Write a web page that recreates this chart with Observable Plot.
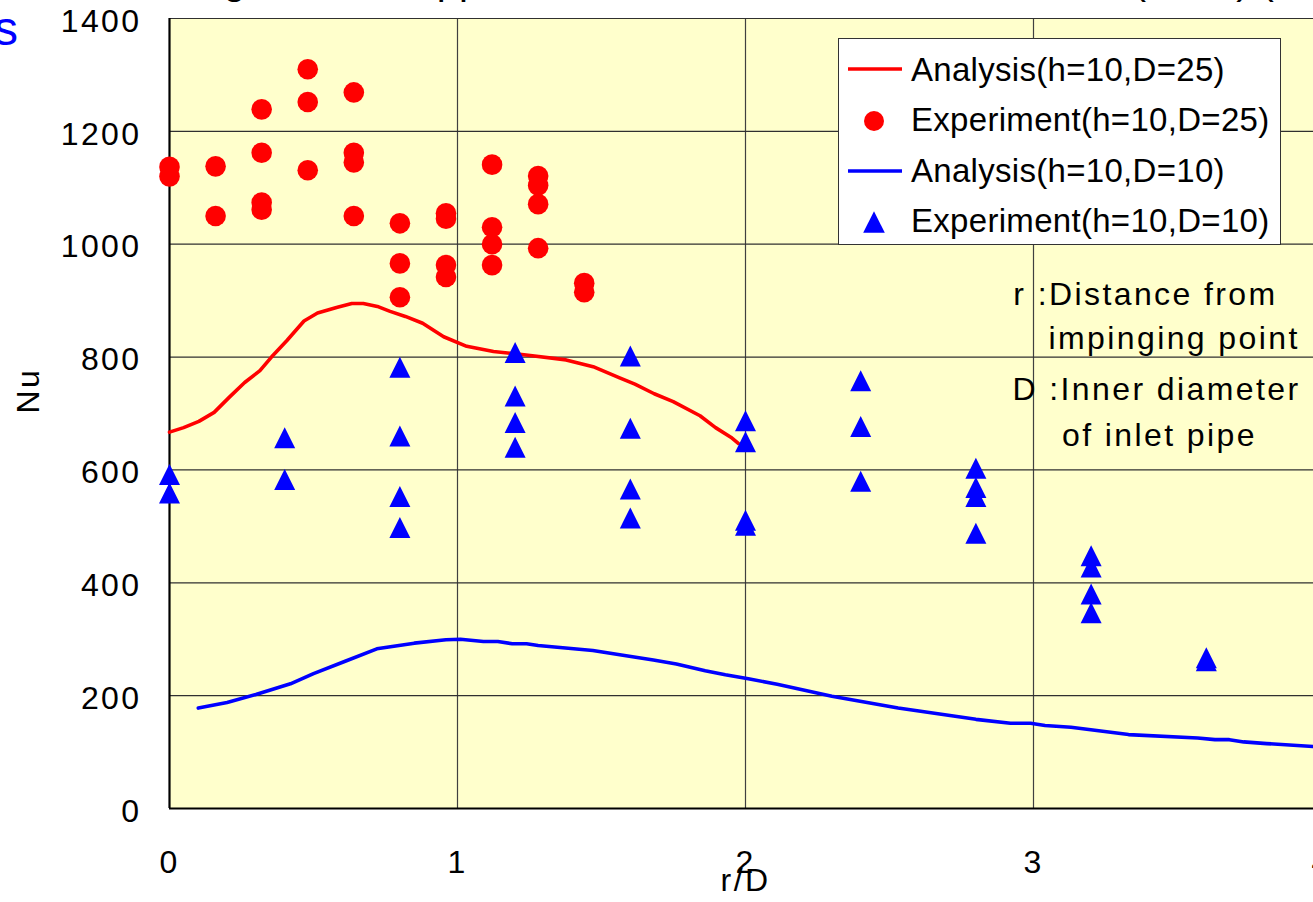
<!DOCTYPE html>
<html>
<head>
<meta charset="utf-8">
<script src="https://cdn.jsdelivr.net/npm/d3@7"></script>
<script src="https://cdn.jsdelivr.net/npm/@observablehq/plot@0.6"></script>
<style>
  html, body { margin: 0; padding: 0; background: #fff; overflow: hidden; }
  #wrap { position: relative; width: 1313px; height: 902px; overflow: hidden; font-family: "Liberation Sans", Arial, sans-serif; }
  #chart { position: absolute; left: 0; top: 0; width: 1340px; }
  #chart svg { max-width: none !important; }
  .title { position: absolute; left: 110px; top: -40px; font-size: 40px; line-height: 40px; white-space: nowrap; color: #000; }
  .side { position: absolute; right: calc(100% - 18px); top: 5px; font-size: 48px; line-height: 48px; color: #0000FF; white-space: nowrap; }
  #legend { position: absolute; left: 838px; top: 38px; width: 443px; height: 207px; box-sizing: border-box; background: #fff; border: 1px solid #333; }
  #legend svg { position: absolute; left: 0; top: 0; }
  .lrow { position: absolute; left: 72px; font-size: 33px; line-height: 33px; white-space: nowrap; color: #000; letter-spacing: 0.3px; }
</style>
</head>
<body>
<div id="wrap">
  <div id="chart"></div>
  <div class="title">Cooling from the upper nozzles, local Nusselt number Nu (h=10) (D=10,25)</div>
  <div class="side">Results</div>
  <div id="legend"></div>
</div>
<script>
// ---- data ----
const xTicks = [0, 1, 2, 3, 4];
const yTicks = [0, 200, 400, 600, 800, 1000, 1200, 1400];

const seriesNames = ["Analysis(h=10,D=25)", "Experiment(h=10,D=25)", "Analysis(h=10,D=10)", "Experiment(h=10,D=10)"];

// Analysis (h=10, D=25)
const anaD25_r  = [0, 0.049, 0.102, 0.155, 0.208, 0.261, 0.314, 0.354, 0.407, 0.467, 0.514, 0.580, 0.633, 0.673, 0.726, 0.766, 0.819, 0.879, 0.952, 1.032, 1.125, 1.231, 1.377, 1.471, 1.563, 1.616, 1.683, 1.749, 1.842, 1.896, 1.949, 1.975];
const anaD25_nu = [667, 675, 686, 702, 729, 755, 776, 800, 829, 864, 878, 888, 895, 895, 889, 881, 872, 860, 836, 819, 810, 804, 795, 783, 763, 752, 735, 721, 696, 675, 658, 647];

// Analysis (h=10, D=10)
const anaD10_r  = [0.10, 0.20, 0.30, 0.42, 0.50, 0.61, 0.72, 0.85, 0.96, 1.01, 1.09, 1.14, 1.19, 1.24, 1.28, 1.47, 1.58, 1.68, 1.76, 1.86, 1.93, 2.01, 2.11, 2.30, 2.53, 2.80, 2.92, 2.99, 3.04, 3.13, 3.33, 3.57, 3.63, 3.68, 3.73, 3.81, 3.97];
const anaD10_nu = [178, 188, 202, 221, 239, 261, 283, 293, 299, 300, 296, 296, 292, 292, 289, 280, 271, 263, 256, 244, 237, 230, 220, 199, 178, 158, 151, 151, 147, 144, 131, 125, 122, 122, 118, 115, 110];

// Experiment (h=10, D=25)
const expD25_r  = [0, 0, 0.16, 0.16, 0.32, 0.32, 0.32, 0.32, 0.48, 0.48, 0.48, 0.64, 0.64, 0.64, 0.64, 0.80, 0.80, 0.80, 0.96, 0.96, 0.96, 0.96, 1.12, 1.12, 1.12, 1.12, 1.28, 1.28, 1.28, 1.28, 1.44, 1.44];
const expD25_nu = [1137, 1120, 1138, 1050, 1239, 1162, 1074, 1061, 1310, 1252, 1131, 1269, 1162, 1145, 1050, 1037, 966, 906, 1055, 1045, 963, 942, 1141, 1030, 1000, 963, 1121, 1104, 1071, 993, 931, 915];

// Experiment (h=10, D=10)
const expD10_r  = [0, 0, 0.4, 0.4, 0.8, 0.8, 0.8, 0.8, 1.2, 1.2, 1.2, 1.2, 1.6, 1.6, 1.6, 1.6, 2.0, 2.0, 2.0, 2.0, 2.4, 2.4, 2.4, 2.8, 2.8, 2.8, 2.8, 3.2, 3.2, 3.2, 3.2, 3.6, 3.6];
const expD10_nu = [592, 559, 657, 583, 782, 660, 553, 498, 808, 731, 684, 640, 802, 674, 566, 515, 687, 650, 511, 502, 758, 677, 580, 603, 569, 553, 488, 448, 428, 380, 347, 267, 262];

const noteLines = ["r :Distance from", "impinging point", "D :Inner diameter", "of inlet pipe"];

// ---- build ----
const rows = (xs, ys) => xs.map((x, i) => ({x, y: ys[i]}));
const anaD25 = rows(anaD25_r, anaD25_nu);
const anaD10 = rows(anaD10_r, anaD10_nu);
const expD25 = rows(expD25_r, expD25_nu);
const expD10 = rows(expD10_r, expD10_nu);

const RED = "#FF0000", BLUE = "#0000FF";
// Excel-style triangle: width == height
const tri = { draw(ctx, size) { const r = Math.sqrt(size / Math.PI); ctx.moveTo(0, -r); ctx.lineTo(r, r); ctx.lineTo(-r, r); ctx.closePath(); } };

const plot = Plot.plot({
  width: 1340, height: 902,
  marginLeft: 169, marginRight: 19, marginTop: 18, marginBottom: 94,
  x: {domain: [0, 4], axis: null},
  y: {domain: [0, 1400], axis: null},
  style: {fontFamily: "'Liberation Sans', Arial, sans-serif", fontSize: "32px", background: "transparent", overflow: "visible", letterSpacing: "2.4px", color: "#000", maxWidth: "none"},
  marks: [
    Plot.frame({fill: "#FFFFCC", stroke: null}),
    Plot.ruleX(xTicks.filter(d => d > 0), {stroke: "#404040", strokeWidth: 1.2}),
    Plot.ruleY(yTicks.filter(d => d > 0), {stroke: "#303030", strokeWidth: 1.2}),
    Plot.ruleX([0], {stroke: "#000", strokeWidth: 2.2}),
    Plot.ruleY([0], {stroke: "#000", strokeWidth: 2.2}),
    Plot.line(anaD25, {x: "x", y: "y", stroke: RED, strokeWidth: 3.6}),
    Plot.line(anaD10, {x: "x", y: "y", stroke: BLUE, strokeWidth: 3.6}),
    Plot.dot(expD25, {x: "x", y: "y", r: 10.3, fill: RED, stroke: null}),
    Plot.dot(expD10, {x: "x", y: "y", r: 10.5, fill: BLUE, stroke: null, symbol: tri}),
    Plot.axisX({ticks: xTicks, tickFormat: d => String(d), tickSize: 0, tickPadding: 42, fontSize: 32, label: null}),
    Plot.axisY({ticks: yTicks, tickFormat: d => String(d), tickSize: 0, tickPadding: 28, fontSize: 32, dy: 3, label: null}),
    Plot.text(["r/D"], {frameAnchor: "bottom", dy: 82, fontSize: 32}),
    Plot.text(["Nu"], {frameAnchor: "left", dx: -141, rotate: -90, fontSize: 32}),
    Plot.text(noteLines, {x: [2.93, 3.052, 2.927, 3.099], y: [910, 833, 742, 660], text: d => d, textAnchor: "start", fontSize: 32, fill: "#000"})
  ]
});
document.getElementById("chart").appendChild(plot);

// ---- legend ----
const leg = d3.select("#legend");
const ls = leg.append("svg").attr("width", 441).attr("height", 205);
const rowCenters = [30, 82, 132, 183];
const baseTops = [13.8, 64.1, 115.1, 165.1];
ls.append("line").attr("x1", 9).attr("x2", 63).attr("y1", rowCenters[0]).attr("y2", rowCenters[0]).attr("stroke", RED).attr("stroke-width", 3.6);
ls.append("circle").attr("cx", 35).attr("cy", rowCenters[1]).attr("r", 10).attr("fill", RED);
ls.append("line").attr("x1", 9).attr("x2", 63).attr("y1", rowCenters[2]).attr("y2", rowCenters[2]).attr("stroke", BLUE).attr("stroke-width", 3.6);
ls.append("path").attr("d", d3.symbol().type(tri).size(Math.PI * 10.8 * 10.8)()).attr("transform", `translate(35,${rowCenters[3]})`).attr("fill", BLUE);
seriesNames.forEach((name, i) => {
  leg.append("div").attr("class", "lrow").style("top", baseTops[i] + "px").text(name);
});
</script>
</body>
</html>
